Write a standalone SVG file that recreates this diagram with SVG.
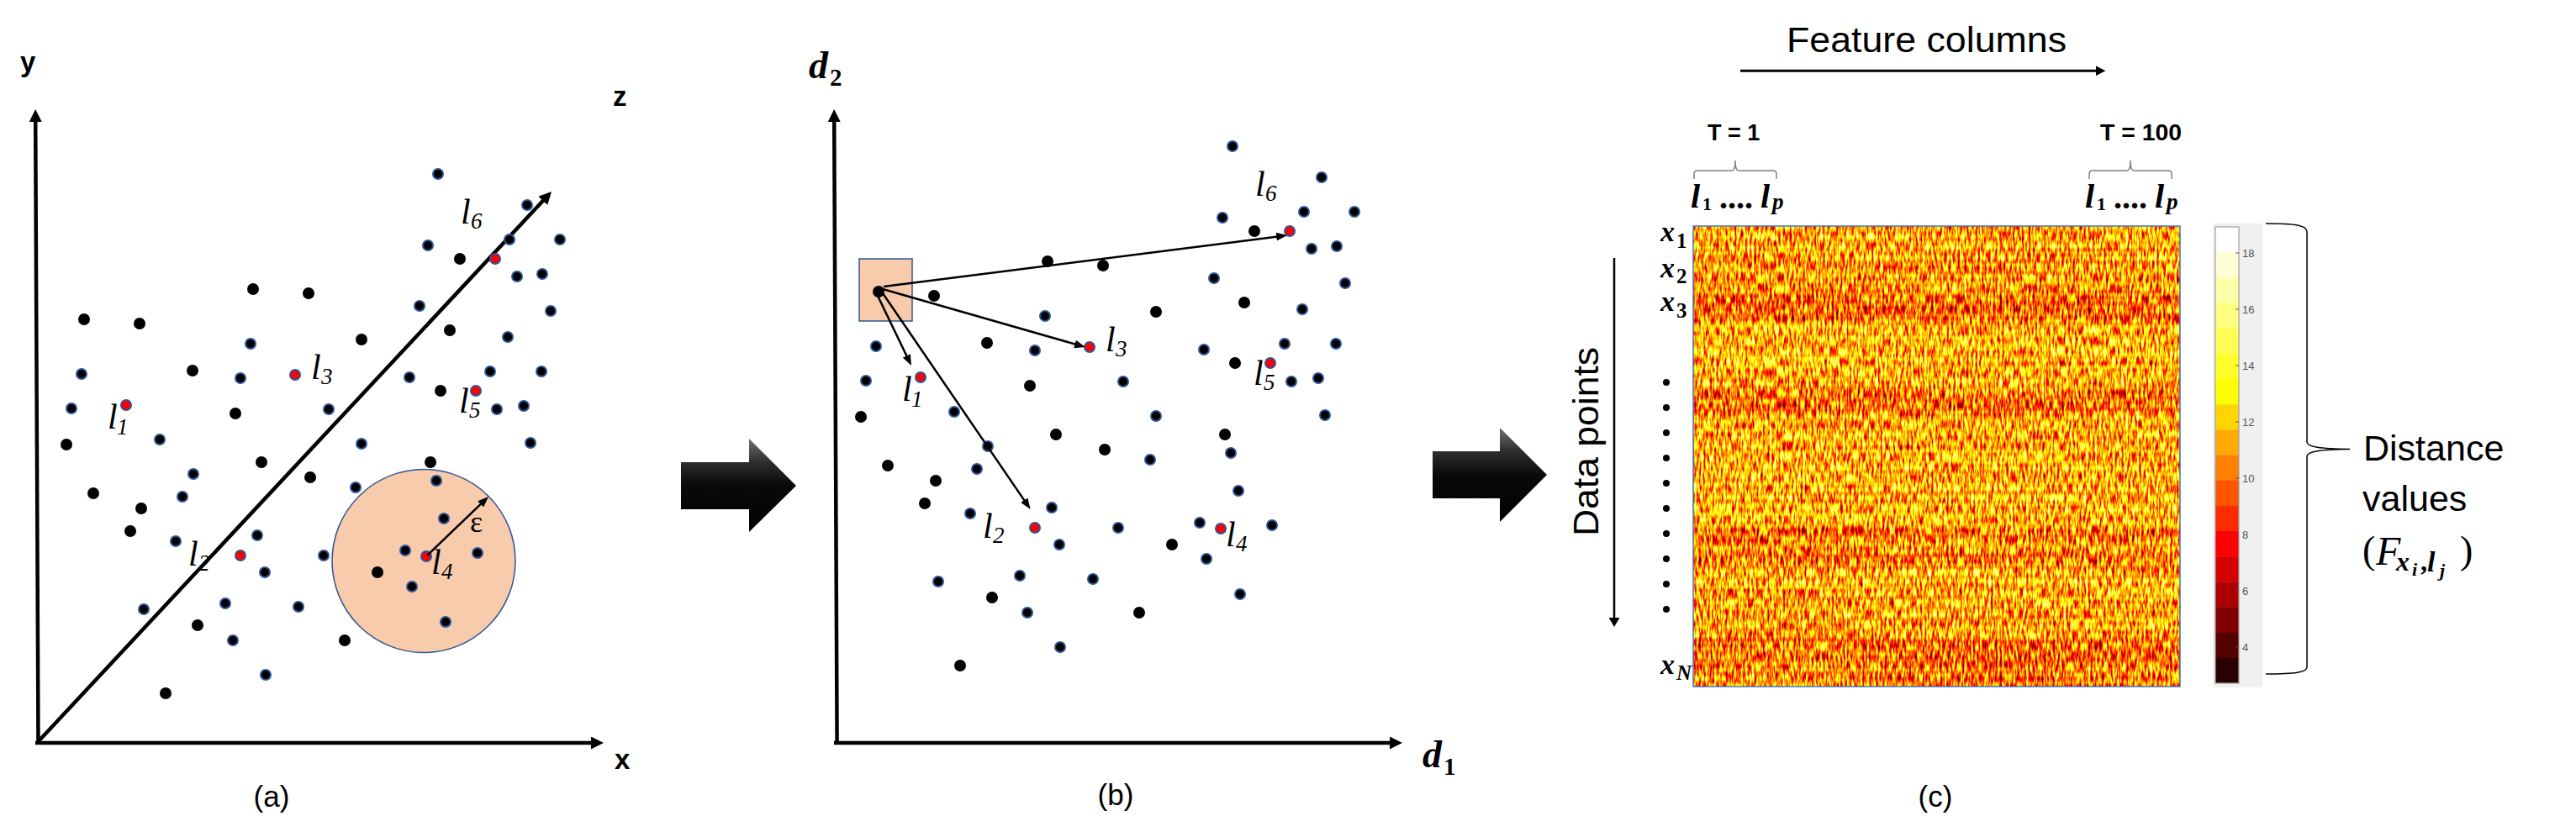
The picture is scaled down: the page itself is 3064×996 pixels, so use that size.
<svg xmlns="http://www.w3.org/2000/svg" xmlns:xlink="http://www.w3.org/1999/xlink" width="3064" height="996" viewBox="0 0 3064 996">
<style>
.ax{stroke:#000;stroke-width:4.5;fill:none}
.thin{stroke:#000;stroke-width:2.5;fill:none}
.dk{fill:#000}
.dn{fill:#000;stroke:#2F5597;stroke-width:2}
.dr{fill:#FF0000;stroke:#2F5597;stroke-width:2}
.lab{font-family:"Liberation Serif","Times New Roman",serif;font-style:italic;font-size:42px}
.sub{font-family:"Liberation Serif","Times New Roman",serif;font-size:27px}
.axl{font-family:"Liberation Sans",Arial,sans-serif;font-weight:bold;font-size:33px}
.cap{font-family:"Liberation Sans",Arial,sans-serif;font-size:35px;text-anchor:middle}
.big{font-family:"Liberation Sans",Arial,sans-serif;font-size:43px}
.tl{font-family:"Liberation Sans",Arial,sans-serif;font-weight:bold;font-size:27px}
.bi{font-family:"Liberation Serif","Times New Roman",serif;font-style:italic;font-weight:bold}
.b{font-family:"Liberation Serif","Times New Roman",serif;font-weight:bold}
.peach{fill:#F8CBAD;stroke:#2F5597;stroke-width:1.5}
.brace{fill:none;stroke:#7F7F7F;stroke-width:1.5}
.tick{font-family:"Liberation Sans",Arial,sans-serif;font-size:13px;fill:#555}
.blk{fill:url(#blockGrad)}
</style>
<defs>
<marker id="ahAxis" markerUnits="userSpaceOnUse" markerWidth="15" markerHeight="15" viewBox="0 0 15 15" refX="2" refY="7.5" orient="auto"><path d="M0,0L15,7.5L0,15z" fill="#000"/></marker>
<marker id="ahThin" markerUnits="userSpaceOnUse" markerWidth="13" markerHeight="10" viewBox="0 0 13 10" refX="2" refY="5" orient="auto"><path d="M0,0L13,5L0,10z" fill="#000"/></marker>
<marker id="ahFeat" markerUnits="userSpaceOnUse" markerWidth="12" markerHeight="12" viewBox="0 0 12 12" refX="2" refY="6" orient="auto"><path d="M0,0L12,6L0,12z" fill="#000"/></marker>
<marker id="ahData" markerUnits="userSpaceOnUse" markerWidth="11" markerHeight="13" viewBox="0 0 11 13" refX="2" refY="6.5" orient="auto"><path d="M0,0L11,6.5L0,13z" fill="#000"/></marker>
<linearGradient id="blockGrad" x1="0" y1="0" x2="0" y2="1">
<stop offset="0" stop-color="#707070"/><stop offset="0.25" stop-color="#2e2e2e"/><stop offset="0.5" stop-color="#0a0a0a"/><stop offset="1" stop-color="#000"/>
</linearGradient>
<linearGradient id="bands" x1="0" y1="0" x2="0" y2="1">
<stop offset="0" stop-color="#8f8f8f"/>
<stop offset="0.0401" stop-color="#8f8f8f"/>
<stop offset="0.0456" stop-color="#9c9c9c"/>
<stop offset="0.0529" stop-color="#8c8c8c"/>
<stop offset="0.1442" stop-color="#888888"/>
<stop offset="0.1551" stop-color="#777777"/>
<stop offset="0.2026" stop-color="#777777"/>
<stop offset="0.2172" stop-color="#949494"/>
<stop offset="0.3449" stop-color="#929292"/>
<stop offset="0.3595" stop-color="#7a7a7a"/>
<stop offset="0.3996" stop-color="#7a7a7a"/>
<stop offset="0.4142" stop-color="#8f8f8f"/>
<stop offset="0.6040" stop-color="#929292"/>
<stop offset="0.6478" stop-color="#949494"/>
<stop offset="0.6588" stop-color="#7a7a7a"/>
<stop offset="0.6807" stop-color="#7c7c7c"/>
<stop offset="0.6898" stop-color="#8c8c8c"/>
<stop offset="0.7044" stop-color="#8c8c8c"/>
<stop offset="0.7135" stop-color="#7c7c7c"/>
<stop offset="0.7409" stop-color="#7e7e7e"/>
<stop offset="0.7500" stop-color="#979797"/>
<stop offset="0.7865" stop-color="#949494"/>
<stop offset="0.8047" stop-color="#8e8e8e"/>
<stop offset="0.8887" stop-color="#8e8e8e"/>
<stop offset="0.9015" stop-color="#777777"/>
<stop offset="0.9453" stop-color="#7a7a7a"/>
<stop offset="0.9599" stop-color="#808080"/>
<stop offset="1" stop-color="#808080"/>
</linearGradient>
<filter id="heat" x="0" y="0" width="1" height="1" color-interpolation-filters="sRGB">
<feTurbulence type="fractalNoise" baseFrequency="0.38 0.08" numOctaves="2" seed="11" result="t1"/>
<feColorMatrix in="t1" type="matrix" values="1 0 0 0 0 1 0 0 0 0 1 0 0 0 0 0 0 0 0 1" result="g1"/>
<feTurbulence type="fractalNoise" baseFrequency="0.004 0.2" numOctaves="1" seed="5" result="t2"/>
<feColorMatrix in="t2" type="matrix" values="1 0 0 0 0 1 0 0 0 0 1 0 0 0 0 0 0 0 0 1" result="g2"/>
<feComposite in="SourceGraphic" in2="g1" operator="arithmetic" k1="0" k2="1" k3="1.1" k4="-0.55" result="s1"/>
<feComposite in="s1" in2="g2" operator="arithmetic" k1="0" k2="1" k3="0.25" k4="-0.125" result="s2"/>
<feComponentTransfer in="s2">
<feFuncR type="table" tableValues="0 1 1 1"/>
<feFuncG type="table" tableValues="0 0 1 1"/>
<feFuncB type="table" tableValues="0 0 0 1"/>
<feFuncA type="linear" slope="0" intercept="1"/>
</feComponentTransfer>
</filter>
<g id="dots">
<circle class="dn" cx="521" cy="207" r="6"/>
<circle class="dn" cx="627" cy="244" r="6"/>
<circle class="dn" cx="606" cy="285" r="6"/>
<circle class="dn" cx="666" cy="285" r="6"/>
<circle class="dn" cx="509" cy="292" r="6"/>
<circle class="dk" cx="547" cy="308" r="7"/>
<circle class="dr" cx="589" cy="308" r="6"/>
<circle class="dn" cx="615" cy="329" r="6"/>
<circle class="dn" cx="645" cy="326" r="6"/>
<circle class="dk" cx="301" cy="344" r="7"/>
<circle class="dk" cx="367" cy="349" r="7"/>
<circle class="dk" cx="100" cy="380" r="7"/>
<circle class="dk" cx="166" cy="385" r="7"/>
<circle class="dn" cx="499" cy="364" r="6"/>
<circle class="dn" cx="655" cy="370" r="6"/>
<circle class="dk" cx="535" cy="393" r="7"/>
<circle class="dk" cx="430" cy="404" r="7"/>
<circle class="dn" cx="604" cy="401" r="6"/>
<circle class="dn" cx="298" cy="409" r="6"/>
<circle class="dn" cx="97" cy="445" r="6"/>
<circle class="dk" cx="229" cy="441" r="7"/>
<circle class="dn" cx="286" cy="450" r="6"/>
<circle class="dr" cx="351" cy="446" r="6"/>
<circle class="dn" cx="487" cy="449" r="6"/>
<circle class="dn" cx="583" cy="442" r="6"/>
<circle class="dn" cx="644" cy="442" r="6"/>
<circle class="dk" cx="524" cy="465" r="7"/>
<circle class="dr" cx="566" cy="465" r="6"/>
<circle class="dn" cx="85" cy="486" r="6"/>
<circle class="dr" cx="150" cy="482" r="6"/>
<circle class="dk" cx="280" cy="492" r="7"/>
<circle class="dn" cx="391" cy="487" r="6"/>
<circle class="dn" cx="591" cy="487" r="6"/>
<circle class="dn" cx="623" cy="483" r="6"/>
<circle class="dk" cx="79" cy="529" r="7"/>
<circle class="dn" cx="190" cy="523" r="6"/>
<circle class="dn" cx="430" cy="528" r="6"/>
<circle class="dn" cx="631" cy="527" r="6"/>
<circle class="dk" cx="311" cy="550" r="7"/>
<circle class="dk" cx="512" cy="550" r="7"/>
<circle class="dn" cx="230" cy="564" r="6"/>
<circle class="dk" cx="369" cy="568" r="7"/>
<circle class="dn" cx="423" cy="580" r="6"/>
<circle class="dk" cx="111" cy="587" r="7"/>
<circle class="dn" cx="217" cy="591" r="6"/>
<circle class="dn" cx="519" cy="572" r="6"/>
<circle class="dk" cx="168" cy="605" r="7"/>
<circle class="dk" cx="155" cy="632" r="7"/>
<circle class="dn" cx="528" cy="617" r="6"/>
<circle class="dn" cx="306" cy="637" r="6"/>
<circle class="dn" cx="209" cy="644" r="6"/>
<circle class="dr" cx="286" cy="661" r="6"/>
<circle class="dn" cx="385" cy="661" r="6"/>
<circle class="dn" cx="482" cy="655" r="6"/>
<circle class="dr" cx="507" cy="662" r="6"/>
<circle class="dn" cx="568" cy="658" r="6"/>
<circle class="dn" cx="315" cy="681" r="6"/>
<circle class="dk" cx="449" cy="681" r="7"/>
<circle class="dn" cx="490" cy="698" r="6"/>
<circle class="dn" cx="171" cy="725" r="6"/>
<circle class="dn" cx="268" cy="718" r="6"/>
<circle class="dn" cx="355" cy="722" r="6"/>
<circle class="dn" cx="530" cy="740" r="6"/>
<circle class="dk" cx="235" cy="744" r="7"/>
<circle class="dn" cx="277" cy="762" r="6"/>
<circle class="dk" cx="410" cy="762" r="7"/>
<circle class="dn" cx="316" cy="803" r="6"/>
<circle class="dk" cx="197" cy="825" r="7"/>
</g>
</defs>
<rect width="3064" height="996" fill="#fff"/>

<!-- Panel (a) -->
<g id="panel-a">
<circle id="eps-ball" class="peach" cx="504" cy="667.5" r="109"/>
<path class="ax" d="M45.5,886L42.2,143" marker-end="url(#ahAxis)"/>
<path class="ax" d="M42,884L705,884" marker-end="url(#ahAxis)"/>
<path class="ax" d="M44,884L647.1,237.5" marker-end="url(#ahAxis)"/>
<use xlink:href="#dots" href="#dots"/>
<path class="thin" d="M508,661L573.1,598.6" marker-end="url(#ahThin)"/>
<text x="559" y="633" font-family="Liberation Serif, serif" font-size="36">ε</text>
<text class="lab" x="128" y="510">l<tspan class="sub" x="139" y="517">1</tspan></text>
<text class="lab" x="224" y="673">l<tspan class="sub" x="236" y="679">2</tspan></text>
<text class="lab" x="370" y="451">l<tspan class="sub" x="382" y="457">3</tspan></text>
<text class="lab" x="513" y="683">l<tspan class="sub" x="525" y="689">4</tspan></text>
<text class="lab" x="546" y="491">l<tspan class="sub" x="558" y="497">5</tspan></text>
<text class="lab" x="548" y="266">l<tspan class="sub" x="560" y="272">6</tspan></text>
<text class="axl" x="24" y="85">y</text>
<text class="axl" x="729" y="126">z</text>
<text class="axl" x="731" y="915">x</text>
<text class="cap" x="323" y="960">(a)</text>
</g>

<!-- Block arrows -->
<g id="block-arrows">
<polygon class="blk" points="810,550 891,550 891,522 947,578 891,633 891,606 810,606"/>
<polygon class="blk" points="1704,537 1784,537 1784,509 1840,565 1784,621 1784,593 1704,593"/>
</g>

<!-- Panel (b) -->
<g id="panel-b">
<rect id="box" class="peach" x="1022" y="308" width="63" height="74"/>
<path class="ax" d="M995.6,886L992.2,143" marker-end="url(#ahAxis)"/>
<path class="ax" d="M992,884L1655,884" marker-end="url(#ahAxis)"/>
<use xlink:href="#dots" href="#dots" transform="translate(945,-33)"/>
<g id="connectors-b">
<path class="thin" d="M1051,341L1520.1,281.4" marker-end="url(#ahThin)"/>
<path class="thin" d="M1050,344L1280.4,410" marker-end="url(#ahThin)"/>
<path class="thin" d="M1043,350L1079.2,425.1" marker-end="url(#ahThin)"/>
<path class="thin" d="M1050,349L1219.4,596.9" marker-end="url(#ahThin)"/>
</g>
<text class="lab" x="1073" y="477">l<tspan class="sub" x="1084" y="484">1</tspan></text>
<text class="lab" x="1169" y="640">l<tspan class="sub" x="1181" y="646">2</tspan></text>
<text class="lab" x="1315" y="418">l<tspan class="sub" x="1327" y="424">3</tspan></text>
<text class="lab" x="1458" y="650">l<tspan class="sub" x="1470" y="656">4</tspan></text>
<text class="lab" x="1491" y="458">l<tspan class="sub" x="1503" y="464">5</tspan></text>
<text class="lab" x="1493" y="233">l<tspan class="sub" x="1505" y="239">6</tspan></text>
<text class="bi" x="962" y="93" font-size="46">d<tspan class="b" font-style="normal" x="987" y="102" font-size="29">2</tspan></text>
<text class="bi" x="1692" y="913" font-size="46">d<tspan class="b" font-style="normal" x="1717" y="922" font-size="29">1</tspan></text>
<text class="cap" x="1327" y="958">(b)</text>
</g>

<!-- Panel (c) -->
<g id="panel-c">
<text class="big" x="2125" y="62" textLength="333" lengthAdjust="spacingAndGlyphs">Feature columns</text>
<path d="M2070,84.3L2494.5,84.3" stroke="#000" stroke-width="3" fill="none" marker-end="url(#ahFeat)"/>
<text class="tl" x="2031" y="167">T = 1</text>
<text class="tl" x="2498" y="167" textLength="97" lengthAdjust="spacingAndGlyphs">T = 100</text>
<path class="brace" d="M2015,213V207Q2015,203 2019,203H2060Q2064,203 2064,191Q2064,203 2068,203H2109Q2113,203 2113,207V213"/>
<path class="brace" d="M2485,213V207Q2485,203 2489,203H2530Q2534,203 2534,191Q2534,203 2538,203H2579Q2583,203 2583,207V213"/>
<text class="bi" font-size="40"><tspan x="2011" y="247">l</tspan><tspan class="b" font-style="normal" x="2025" y="250" font-size="22">1</tspan><tspan class="b" font-style="normal" x="2045" y="248">....</tspan><tspan x="2094" y="247">l</tspan><tspan x="2108" y="249" font-size="27">p</tspan></text>
<text class="bi" font-size="40"><tspan x="2480" y="247">l</tspan><tspan class="b" font-style="normal" x="2494" y="250" font-size="22">1</tspan><tspan class="b" font-style="normal" x="2514" y="248">....</tspan><tspan x="2563" y="247">l</tspan><tspan x="2577" y="249" font-size="27">p</tspan></text>

<g id="heatmap">
<rect x="2014" y="269" width="579" height="548" fill="url(#bands)" filter="url(#heat)"/>
<rect x="2014" y="269" width="579" height="548" fill="none" stroke="#4472C4" stroke-width="1.5"/>
</g>

<text class="bi" x="1975" y="287" font-size="34">x<tspan class="b" font-style="normal" x="1994" y="295" font-size="25">1</tspan></text>
<text class="bi" x="1975" y="330" font-size="34">x<tspan class="b" font-style="normal" x="1994" y="337" font-size="25">2</tspan></text>
<text class="bi" x="1975" y="370" font-size="34">x<tspan class="b" font-style="normal" x="1994" y="378" font-size="25">3</tspan></text>
<text class="bi" x="1975" y="802" font-size="34">x<tspan x="1994" y="809" font-size="25">N</tspan></text>
<g id="row-dots" fill="#000">
<circle cx="1982" cy="455" r="4"/><circle cx="1982" cy="485" r="4"/><circle cx="1982" cy="515" r="4"/><circle cx="1982" cy="545" r="4"/><circle cx="1982" cy="575" r="4"/><circle cx="1982" cy="605" r="4"/><circle cx="1982" cy="635" r="4"/><circle cx="1982" cy="665" r="4"/><circle cx="1982" cy="695" r="4"/><circle cx="1982" cy="725" r="4"/>
</g>
<path d="M1920,307L1920,737" stroke="#000" stroke-width="2.5" fill="none" marker-end="url(#ahData)"/>
<text class="big" transform="translate(1901,638) rotate(-90)" textLength="225" lengthAdjust="spacingAndGlyphs">Data points</text>

<g id="colorbar">
<rect x="2632" y="266" width="59" height="552" fill="#F0F0F0"/>
<rect x="2635" y="270" width="28" height="30.5" fill="#FFFFFF"/>
<rect x="2635" y="300.17" width="28" height="30.5" fill="#FFFFD5"/>
<rect x="2635" y="330.33" width="28" height="30.5" fill="#FFFFAA"/>
<rect x="2635" y="360.5" width="28" height="30.5" fill="#FFFF80"/>
<rect x="2635" y="390.67" width="28" height="30.5" fill="#FFFF55"/>
<rect x="2635" y="420.83" width="28" height="30.5" fill="#FFFF2B"/>
<rect x="2635" y="451" width="28" height="30.5" fill="#FFFF00"/>
<rect x="2635" y="481.17" width="28" height="30.5" fill="#FFD500"/>
<rect x="2635" y="511.33" width="28" height="30.5" fill="#FFAA00"/>
<rect x="2635" y="541.5" width="28" height="30.5" fill="#FF8000"/>
<rect x="2635" y="571.67" width="28" height="30.5" fill="#FF5500"/>
<rect x="2635" y="601.83" width="28" height="30.5" fill="#FF2B00"/>
<rect x="2635" y="632" width="28" height="30.5" fill="#FF0000"/>
<rect x="2635" y="662.17" width="28" height="30.5" fill="#D50000"/>
<rect x="2635" y="692.33" width="28" height="30.5" fill="#AA0000"/>
<rect x="2635" y="722.5" width="28" height="30.5" fill="#800000"/>
<rect x="2635" y="752.67" width="28" height="30.5" fill="#550000"/>
<rect x="2635" y="782.83" width="28" height="30.17" fill="#2B0000"/>
<rect x="2635" y="270" width="28" height="543" fill="none" stroke="#A0A0A0" stroke-width="1.2"/>
<path d="M2659,301H2663M2659,368H2663M2659,435H2663M2659,502H2663M2659,569H2663M2659,636H2663M2659,703H2663M2659,770H2663" stroke="#555" stroke-width="1.2"/>
<text class="tick" x="2667" y="305.5">18</text>
<text class="tick" x="2667" y="372.5">16</text>
<text class="tick" x="2667" y="439.5">14</text>
<text class="tick" x="2667" y="506.5">12</text>
<text class="tick" x="2667" y="573.5">10</text>
<text class="tick" x="2667" y="640.5">8</text>
<text class="tick" x="2667" y="707.5">6</text>
<text class="tick" x="2667" y="774.5">4</text>
</g>
<path d="M2695,266C2730,266 2744,268 2744,276V526C2744,532 2760,534 2795,534.5C2760,535 2744,537 2744,543V794C2744,800 2730,802 2695,802" fill="none" stroke="#000" stroke-width="1.5"/>
<text class="big" x="2811" y="548">Distance</text>
<text class="big" x="2810" y="608">values</text>
<text font-family="Liberation Serif, serif" font-size="46"><tspan x="2810" y="670">(</tspan><tspan x="2826" y="672" font-style="italic" font-size="48">F</tspan><tspan class="bi" x="2850" y="679" font-size="32">x</tspan><tspan class="bi" x="2869" y="685" font-size="22">i</tspan><tspan class="b" x="2879" y="679" font-size="32">,</tspan><tspan class="bi" x="2887" y="680" font-size="34">l</tspan><tspan class="bi" x="2902" y="686" font-size="22">j</tspan><tspan x="2926" y="670">)</tspan></text>
<text class="cap" x="2302" y="960">(c)</text>
</g>
</svg>
